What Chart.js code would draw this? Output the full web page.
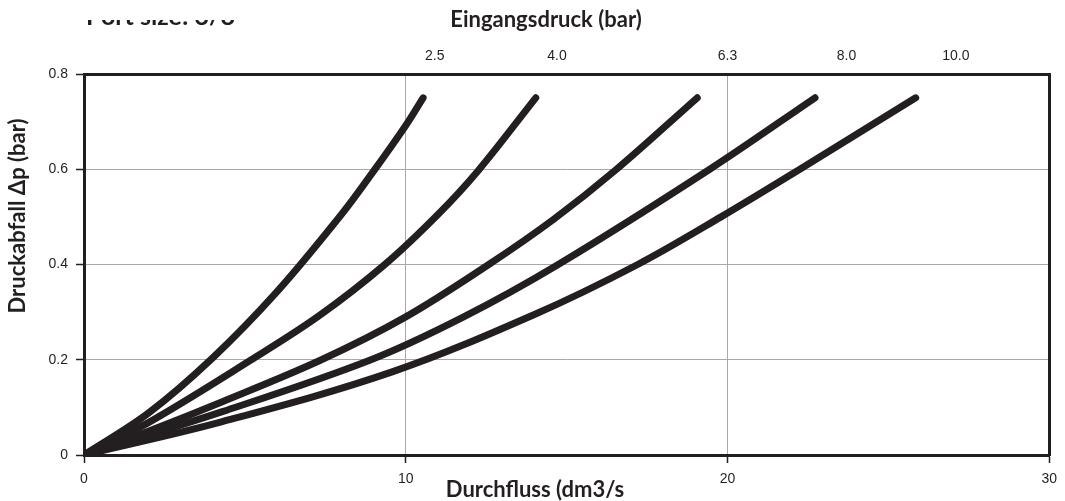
<!DOCTYPE html>
<html>
<head>
<meta charset="utf-8">
<script src="https://cdn.jsdelivr.net/npm/chart.js@4/dist/chart.umd.min.js"></script>
<style>
  html, body { margin: 0; padding: 0; background: #ffffff; }
  #wrap { width: 1065px; height: 501px; position: relative; }
</style>
</head>
<body>
<div id="wrap"><canvas id="c"></canvas></div>
<script>
// ---- data (flow in dm3/s, pressure drop in bar) ----
const flow25 = [0, 2, 4, 6, 8, 9, 10, 10.54];
const dp25   = [0, 0.088, 0.204, 0.343, 0.505, 0.596, 0.692, 0.75];

const flow40 = [0, 2, 5.2, 7.3, 9.35, 11.0, 12.25, 14.04];
const dp40   = [0, 0.068, 0.2, 0.292, 0.4, 0.505, 0.597, 0.75];

const flow63 = [0, 2, 4.3, 7.38, 10.0, 12.58, 14.6, 16.5, 19.06];
const dp63   = [0, 0.05, 0.112, 0.2, 0.29, 0.4, 0.495, 0.597, 0.75];

const flow80 = [0, 4.3, 8.92, 11.8, 14.74, 19.45, 22.72];
const dp80   = [0, 0.091, 0.2, 0.29, 0.4, 0.6, 0.75];

const flow100 = [0, 4.3, 9.6, 14.0, 17.21, 19.8, 22.25, 25.85];
const dp100   = [0, 0.07, 0.175, 0.295, 0.4, 0.5, 0.6, 0.75];

const xTicks = [0, 10, 20, 30];
const xTickLabels = ['0', '10', '20', '30'];
const yTicks = [0, 0.2, 0.4, 0.6, 0.8];
const yTickLabels = ['0', '0.2', '0.4', '0.6', '0.8'];

// inlet pressure labels along the top, placed at flow positions
const inletLabels = ['2.5', '4.0', '6.3', '8.0', '10.0'];
const inletPos    = [10.9, 14.7, 20.0, 23.7, 27.1];

const titleTop = 'Eingangsdruck (bar)';
const titleX = 'Durchfluss (dm3/s';
const titleY = 'Druckabfall \u0394p (bar)';
const headerText = 'Port size: 3/8';

// ---- build ----
const INK = '#231f20';
function pts(xs, ys) { return xs.map((x, i) => ({ x: x, y: ys[i] })); }
const series = [
  { label: '2.5', data: pts(flow25, dp25) },
  { label: '4.0', data: pts(flow40, dp40) },
  { label: '6.3', data: pts(flow63, dp63) },
  { label: '8.0', data: pts(flow80, dp80) },
  { label: '10.0', data: pts(flow100, dp100) }
].map(s => Object.assign(s, {
  showLine: true,
  borderColor: INK,
  backgroundColor: INK,
  borderWidth: 7,
  borderCapStyle: 'round',
  borderJoinStyle: 'round',
  pointRadius: 0,
  pointHoverRadius: 0,
  cubicInterpolationMode: 'default',
  tension: 0.35,
  fill: false
}));

const tickFont = { family: "'Liberation Sans', Arial, sans-serif", size: 14 };
const titleFont = "bold 22px Lato, 'Open Sans', sans-serif";

const titlesPlugin = {
  id: 'titles',
  afterDraw(chart) {
    const ctx = chart.ctx;
    ctx.save();
    ctx.fillStyle = INK;
    ctx.font = titleFont;
    ctx.textAlign = 'center';
    ctx.textBaseline = 'middle';
    ctx.fillText(titleTop, 546, 20);
    ctx.fillText(titleX, 535, 490);
    ctx.save();
    ctx.translate(18, 216);
    ctx.rotate(-Math.PI / 2);
    ctx.fillText(titleY, 0, 0);
    ctx.restore();
    // header text, cut off at the top in the reference
    ctx.save();
    ctx.beginPath();
    ctx.rect(0, 20, 400, 8);
    ctx.clip();
    ctx.textAlign = 'left';
    ctx.textBaseline = 'alphabetic';
    ctx.font = "bold 25px Lato, sans-serif";
    ctx.fillText(headerText, 86, 25);
    ctx.restore();
    ctx.restore();
  }
};

new Chart(document.getElementById('c'), {
  type: 'scatter',
  data: { datasets: series },
  options: {
    responsive: true,
    maintainAspectRatio: false,
    animation: false,
    layout: { padding: 0 },
    plugins: { legend: { display: false }, tooltip: { enabled: false }, title: { display: false } },
    scales: {
      x: {
        type: 'linear', position: 'bottom', min: 0, max: 30,
        afterBuildTicks: s => { s.ticks = xTicks.map(v => ({ value: v })); },
        afterFit: s => { s.height = 46; },
        grid: { color: '#a8a8a8', lineWidth: 1, tickLength: 8, tickColor: INK, tickWidth: 1.5 },
        border: { display: true, color: INK, width: 3 },
        ticks: { font: tickFont, color: INK, padding: 8, maxRotation: 0, autoSkip: false,
                 callback: (v, i) => xTickLabels[i] }
      },
      x2: {
        type: 'linear', position: 'top', min: 0, max: 30,
        afterBuildTicks: s => { s.ticks = inletPos.map(v => ({ value: v })); },
        afterFit: s => { s.height = 74; },
        grid: { display: false, drawTicks: false },
        border: { display: true, color: INK, width: 3 },
        ticks: { font: tickFont, color: INK, padding: 9, maxRotation: 0, autoSkip: false,
                 callback: (v, i) => inletLabels[i] }
      },
      y: {
        type: 'linear', position: 'left', min: 0, max: 0.8,
        afterBuildTicks: s => { s.ticks = yTicks.map(v => ({ value: v })); },
        afterFit: s => { s.width = 84; },
        grid: { color: '#a8a8a8', lineWidth: 1, tickLength: 8, tickColor: INK, tickWidth: 1.5 },
        border: { display: true, color: INK, width: 3 },
        ticks: { font: tickFont, color: INK, padding: 8, autoSkip: false,
                 callback: (v, i) => yTickLabels[i] }
      },
      y2: {
        type: 'linear', position: 'right', min: 0, max: 0.8,
        afterFit: s => { s.width = 9; },
        grid: { display: false, drawTicks: false },
        border: { display: true, color: INK, width: 3 },
        ticks: { display: false }
      }
    }
  },
  plugins: [titlesPlugin]
});
</script>
</body>
</html>
